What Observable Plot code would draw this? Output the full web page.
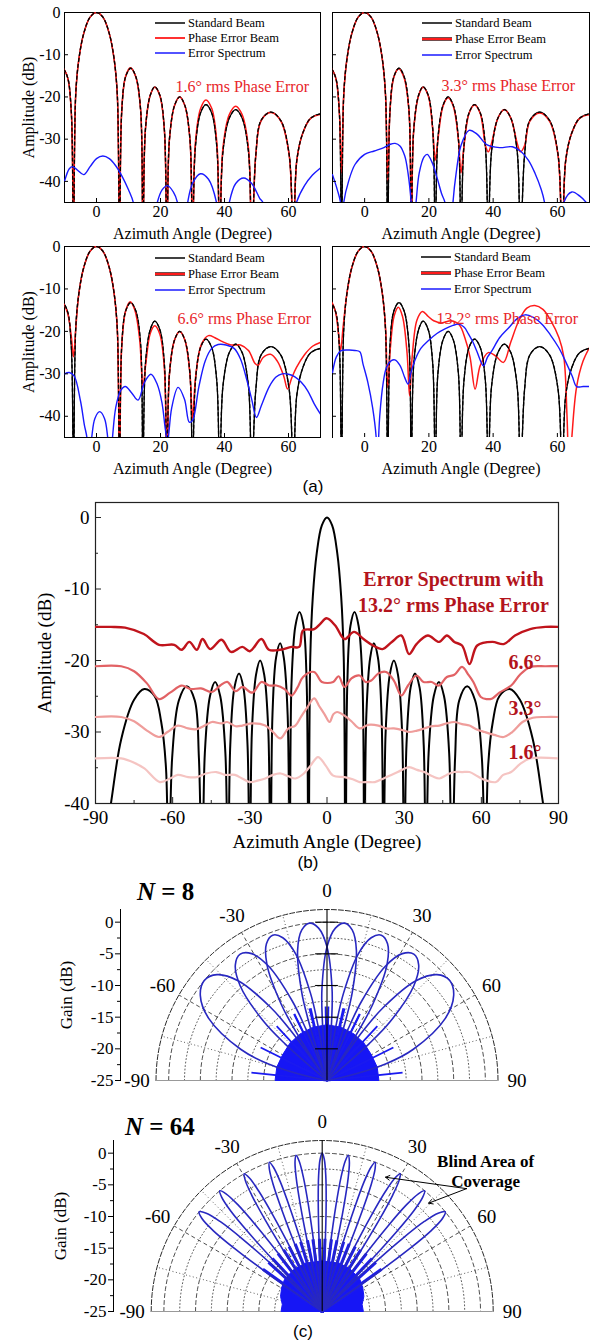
<!DOCTYPE html>
<html><head><meta charset="utf-8">
<script src="https://cdn.jsdelivr.net/npm/d3@7"></script>
<script src="https://cdn.jsdelivr.net/npm/@observablehq/plot@0.6"></script>
<style>
html,body{margin:0;padding:0;background:#fff;}
#root{position:relative;width:594px;height:1343px;overflow:hidden;font-family:'Liberation Serif','Times New Roman',serif;color:#000;}
.lgt{position:absolute;font-size:12.5px;line-height:16px;white-space:nowrap;}
.lab{position:absolute;font-family:'Liberation Sans',Arial,sans-serif;font-size:17px;line-height:20px;transform:translate(-50%,-50%);white-space:nowrap;}
.nn{position:absolute;font-family:'Liberation Serif','Times New Roman',serif;font-weight:bold;font-size:25px;line-height:28px;white-space:nowrap;}
</style></head><body><div id="root"></div>
<script>
// ---------------- DATA ----------------
// standard beam (angle deg, amplitude dB), shared by (a) and (b)
const stdBeam = [
[-90,-55],[-87,-47],[-84,-40],[-80,-31],[-75,-25.5],[-71,-24],[-67,-25],[-64.5,-28.5],[-62.6,-35],[-61.5,-55],
[-60.2,-33.6],[-57.6,-25.6],[-54.5,-23.6],[-51.4,-25.6],[-49.8,-33.6],[-48.5,-55],
[-47.5,-33],[-45.5,-25],[-43.5,-23],[-41.5,-25],[-39.5,-33],[-38.5,-55],
[-37.6,-31.8],[-36,-23.8],[-34.2,-21.8],[-32.5,-23.8],[-30.9,-31.8],[-30,-55],
[-29.2,-30],[-27.6,-22],[-26,-20],[-24.4,-22],[-22.8,-30],[-22,-55],
[-21.2,-27.6],[-19.8,-19.6],[-18.2,-17.6],[-16.8,-19.6],[-15.3,-27.6],[-14.5,-55],
[-13.8,-23.2],[-12.3,-15.2],[-10.7,-13.2],[-9.1,-15.2],[-7.9,-23.2],[-7.2,-55],
[-6.5,-19.5],[-5.5,-11],[-4,-5],[-2,-1.1],[0,0],[2,-1.1],[4,-5],[5.5,-11],[6.5,-19.5],[7.2,-55],
[7.9,-23.2],[9.1,-15.2],[10.7,-13.2],[12.3,-15.2],[13.8,-23.2],[14.5,-55],
[15.3,-27.6],[16.8,-19.6],[18.2,-17.6],[19.8,-19.6],[21.2,-27.6],[22,-55],
[22.8,-30],[24.4,-22],[26,-20],[27.6,-22],[29.2,-30],[30,-55],
[30.9,-31.8],[32.5,-23.8],[34.2,-21.8],[36,-23.8],[37.6,-31.8],[38.5,-55],
[39.5,-33],[41.5,-25],[43.5,-23],[45.5,-25],[47.5,-33],[48.5,-55],
[49.8,-33.6],[51.4,-25.6],[54.5,-23.6],[57.6,-25.6],[60.2,-33.6],[61.5,-55],
[62.6,-35],[64.5,-28.5],[67,-25],[71,-24],[75,-25.5],[80,-31],[84,-40],[87,-47],[90,-55]
];
// (a) panel 1 : 1.6 deg rms
const p1Red = [
[-13.8,-23.2],[-12.3,-15.2],[-10.7,-13.2],[-9.1,-15.2],[-7.9,-23.2],[-7.2,-50],
[-6.5,-19.5],[-5.5,-11],[-4,-5],[-2,-1.1],[0,0],[2,-1.1],[4,-5],[5.5,-11],[6.5,-19.5],[7.2,-55],
[7.9,-23],[9.1,-15.1],[10.6,-13.1],[12.2,-15.1],[13.8,-23.1],[14.5,-55],
[15.3,-27.6],[16.8,-19.6],[18.2,-17.7],[19.8,-19.7],[21.2,-27.7],[22,-55],
[22.8,-30],[24.4,-22],[26,-20],[27.6,-22],[29.2,-30],[30,-55],
[30.9,-30.8],[32.5,-22.8],[34.2,-20.7],[36,-22.7],[37.6,-30.7],[38.5,-55],
[39.5,-32.2],[41.5,-24.2],[43.5,-22.2],[45.5,-24.2],[47.5,-32.2],[48.5,-55],
[49.8,-33.7],[51.4,-25.7],[54.5,-23.7],[57.6,-25.7],[60.2,-33.7],[61.5,-55],
[62.6,-35],[64.5,-28.5],[67,-25],[71,-24]
];
const p1Blue = [
[-10,-40],[-8.5,-37],[-7.5,-36.5],[-6,-37.3],[-4,-38.4],[-2,-36.5],[0,-34.6],[2,-34],[4,-34.6],[6,-36.3],[8,-38.8],[10,-42],[11.5,-45],[12.5,-52],
[17.5,-52],[19,-45],[20.5,-42],[22.2,-41],[24,-42.5],[25.3,-45],[26.5,-52],
[27.5,-52],[28.5,-45],[30,-40.5],[32.5,-38.2],[35,-39.5],[37.5,-45],[38.5,-52],
[40.5,-52],[41.5,-45],[43.5,-40.5],[46,-39.2],[48.5,-40.5],[51,-44],[52,-45],[53,-52],
[61,-52],[62.5,-45],[65,-41],[67.5,-38.5],[70,-36.8]
];
// (a) panel 2 : 3.3 deg rms
const p2Red = [
[-13.8,-23.2],[-12.3,-15.2],[-10.7,-13.2],[-9.1,-15.2],[-7.9,-23.2],[-7.2,-38],
[-6.5,-19.5],[-5.5,-11],[-4,-5],[-2,-1.1],[0,0],[2,-1.1],[4,-5],[5.5,-11],[6.5,-19.5],[7.2,-40],
[7.9,-23.3],[9.1,-15.3],[10.6,-13.3],[12.2,-15.3],[13.8,-23.3],[14.5,-55],
[15.3,-27.7],[16.8,-19.7],[18.2,-17.7],[19.8,-19.7],[21.2,-27.7],[22,-35],
[22.8,-30.2],[24.4,-22.2],[26,-20.2],[27.6,-22.2],[29.2,-30.2],[30,-38],
[30.9,-31.9],[32.5,-23.9],[34.2,-21.9],[36,-23.9],[37.6,-31.5],[38.5,-33],
[39.5,-31],[41.5,-25],[43.5,-23],[45.5,-25],[47.5,-31],[48.5,-33],
[49.8,-31.5],[51.4,-25.8],[54.5,-23.8],[57.6,-25.8],[60.2,-33.8],[61.5,-55],
[62.6,-35],[64.5,-28.5],[67,-25],[71,-24.1]
];
const p2Blue = [
[-10,-38.4],[-8.5,-42],[-7.5,-45],[-7,-52],[-6.5,-45],[-5,-40],[-3,-36],[0,-33.6],[3,-32.8],[6,-32],[8,-31.2],[9.5,-31],[11,-31.6],[12.5,-34],[13.5,-38],[14.5,-45],[15,-52],
[16,-45],[17,-38],[18.5,-34.2],[19.5,-33.6],[21,-35.5],[22.5,-39],[24,-43],[25,-45],[25.5,-52],
[27,-52],[27.5,-45],[28.5,-38],[30,-31.5],[32.5,-27.9],[35,-28.8],[38,-31.3],[42,-32],[46,-31.8],[48.5,-32.8],[51,-35],[53,-38],[55,-42],[56,-45],[57,-52],
[61.5,-52],[62,-45],[64.5,-42.5],[67,-43.5],[69,-45],[70,-46]
];
// (a) panel 3 : 6.6 deg rms
const p3Red = [
[-13.8,-23.2],[-12.3,-15.2],[-10.7,-13.2],[-9.1,-15.5],[-7.9,-21],[-7.2,-26],
[-6.5,-19.5],[-5.5,-11],[-4,-5],[-2,-1.1],[0,0],[2,-1.1],[4,-5],[5.5,-11],[6.5,-19.5],[7.2,-55],
[7.9,-23.2],[9.1,-15.2],[10.5,-13],[12,-15],[13.5,-22],[14.5,-33],
[15.5,-27],[16.8,-20.5],[18.2,-18.7],[19.8,-20.7],[21.2,-28.7],[22,-55],
[22.8,-30],[24.4,-22],[26,-20],[27.6,-22],[29.2,-30],[30,-40.5],
[31,-30.5],[32.8,-23],[35,-21],[37,-21.5],[39,-22.3],[42,-23.2],[45,-23.2],[47.5,-24.5],[49.5,-27.5],[50.5,-28],
[52,-26.2],[54.4,-25.4],[56.5,-27],[58.5,-30.5],[59.7,-33.6],[61,-31],[62.5,-28.5],[65,-25.5],[67.5,-23.5],[70,-22.6]
];
const p3Blue = [
[-10,-30],[-8.5,-29.7],[-7,-30.5],[-5,-36.4],[-3.8,-42],[-3,-45],[-2.5,-52],[-1.5,-45],[-0.5,-40.5],[1,-38.9],[2.5,-40.5],[3.5,-45],[4.2,-52],
[5,-45],[6,-38],[7.5,-34],[9,-33],[11,-34.5],[13,-36.2],[15,-32],[17,-30.1],[19,-32.5],[20.5,-37],[21.5,-43],[22.2,-46],
[23.5,-38],[25.5,-33.2],[27.5,-36],[29,-41.4],[30,-41],[32,-33],[34,-26.9],[36,-24],[38,-23.1],[40.5,-23.2],[43,-24],[45,-26.5],[47,-31.5],[48.5,-36],[50,-40.3],
[51.5,-37.5],[54,-33],[56,-30.8],[58,-30],[60,-30.1],[62,-30.7],[64,-32],[66,-34],[68,-37],[70,-39.5]
];
// (a) panel 4 : 13.2 deg rms
const p4Red = [
[-13.8,-23.2],[-12.3,-15],[-10.7,-12.8],[-9.2,-15],[-8.2,-20],[-7.5,-24.6],
[-6.7,-19],[-5.5,-11],[-4,-5],[-2,-1.1],[0,0],[2,-1.1],[4,-5],[5.5,-11],[6.5,-19],[7.2,-33.2],
[8,-24],[9.2,-16.3],[10.5,-14.3],[11.8,-16.5],[13.2,-25],[14,-35.2],
[14.8,-26],[16.3,-17.3],[18,-15.3],[19.8,-16.5],[21.5,-17.5],[24,-18],[27,-17.5],[29.5,-18.5],[31.2,-21.5],[32.8,-26],[34.4,-33.6],
[36,-28],[38.5,-25],[40.8,-25.8],[43.2,-27.3],[45.5,-22.5],[48,-17.5],[50.5,-14.5],[53,-13.9],[55.5,-14.8],[58,-17.5],[60.5,-21.5],[62,-26],[63,-40],[63.7,-55],
[64.5,-45],[66,-33],[68,-27],[70,-23.8]
];
const p4Blue = [
[-10,-29.7],[-8.8,-26],[-7.5,-24.6],[-5,-24.4],[-3,-24.5],[-1.5,-24.8],[-0.5,-27.7],[1,-32],[2.5,-38],[3.6,-45],[3.9,-52],
[4.7,-40],[5.8,-32],[6.8,-28.5],[8.3,-26.9],[9.4,-26.7],[11,-28],[12.5,-30.9],[13.5,-32.4],[14.5,-29.5],[15.6,-26.9],[17.5,-24],[19.8,-22.2],
[22.5,-20.5],[25,-19.4],[27.5,-18.6],[29.2,-18.3],[31,-19],[32.3,-20.6],[33.7,-22.5],[34.9,-24.6],[37,-28.1],[38.3,-26],[39.6,-24.6],
[42,-21.5],[44.8,-19.2],[47.5,-17],[50,-16.1],[52.5,-16.7],[55.2,-18.3],[57.8,-20.8],[60.4,-23.8],[62.5,-27],[64.6,-30.5],[66,-33],[68,-33],[70,-33]
];
const aNotes = ["1.6° rms Phase Error", "3.3° rms Phase Error", "6.6° rms Phase Error", "13.2° rms Phase Error"];
const legendLabels = ["Standard Beam", "Phase Error Beam", "Error Spectrum"];
const aXTicks = [0, 20, 40, 60];
const aYTicks = [-40, -30, -20, -10, 0];

// (b) error spectra for each rms phase error
const e13 = [
[-90,-15.3],[-84,-15.3],[-78.5,-15.4],[-71.2,-16.3],[-65.3,-17.8],[-59.4,-17.8],[-56.5,-18.5],[-53.5,-17.4],[-50.6,-18.5],[-48.4,-17],[-45.4,-18.4],
[-41,-17.1],[-37.3,-18.8],[-32.9,-18.1],[-30,-18.7],[-25.5,-17],[-22.6,-18.5],[-18.2,-18.5],[-13.8,-18.1],[-10.8,-18.1],[-9.3,-15.8],[-5,-15.6],
[-2.7,-14.9],[-0.2,-14.1],[3.2,-15.1],[6.8,-17],[10.5,-16],[14.2,-17],[17.9,-17.9],[21.6,-18.4],[25.2,-17.4],[28.9,-16.5],[31.9,-19.1],[34.8,-17.7],
[39.2,-16.5],[43.6,-17.4],[46.6,-16.5],[49.5,-17.4],[52.5,-17.9],[55.4,-20.5],[58.4,-17.9],[64.3,-17.4],[68.7,-17.7],[73.1,-16.5],[79,-15.6],[84.9,-15.3],[90,-15.3]
];
const e6 = [
[-90,-20.8],[-80,-20.8],[-75,-21.5],[-70,-23.2],[-65.3,-25.4],[-61,-24.5],[-56.5,-23.5],[-53,-24],[-49,-23.9],[-44.7,-24.4],[-41.5,-23.5],[-38.8,-23],
[-35.5,-24.3],[-32.9,-23.7],[-29,-24.5],[-25.5,-23],[-22.5,-23.5],[-19.7,-23.5],[-16.5,-24],[-13.8,-24.9],[-11.5,-23.8],[-9.3,-22.3],[-5,-21.6],[-2,-23],
[2.4,-23],[4.5,-22.2],[6.8,-23.7],[9.5,-22.5],[12.7,-22.1],[15,-23],[17.2,-22.8],[20,-21.8],[23,-21.6],[26,-22.8],[28.9,-24.9],[31.5,-23.5],[34.8,-22.1],
[37.5,-23],[40.7,-23],[43.5,-23.5],[46.6,-22.3],[49.5,-22],[52.5,-20.9],[55,-22],[56.9,-23],[59.8,-25.1],[62,-25.4],[64.3,-25.3],[67,-24.5],[71.6,-23.5],
[75,-22],[79,-20.9],[85,-20.8],[90,-20.8]
];
const e3 = [
[-90,-27.9],[-80,-27.9],[-75,-28.5],[-70,-29.8],[-65.3,-30.7],[-62,-30],[-58,-29.1],[-54,-29.5],[-50.6,-29.6],[-47,-29],[-44.7,-28.6],[-41,-28.8],
[-38.8,-28.6],[-35.5,-29.2],[-32.9,-29.1],[-29,-28.8],[-24,-29.1],[-21,-30],[-18.2,-30.9],[-15,-29.5],[-12.3,-29.1],[-10,-27.8],[-7.9,-26.7],[-5,-25.3],
[-3,-26.4],[-1,-27.5],[1,-28.6],[2.5,-27.5],[3.9,-27.2],[6.8,-27.7],[9.5,-28.5],[12.7,-29.5],[16,-29],[20,-29.1],[23,-29.5],[26,-29.5],[29,-29.7],
[31.9,-30],[35,-29.8],[37.8,-29.5],[40.5,-29.2],[43.7,-29.1],[46.5,-28.8],[49.5,-28.6],[52.5,-28.9],[55.4,-29.1],[58,-29.6],[61.3,-30],[65,-30.4],
[68.7,-30.7],[72,-30],[76,-28.6],[80,-28],[85,-27.9],[90,-27.9]
];
const e1 = [
[-90,-33.7],[-80,-33.7],[-75,-34.3],[-71,-35.1],[-65,-37],[-61,-36.5],[-58,-36],[-54,-36.3],[-50.6,-36.3],[-47,-35.8],[-43,-35.6],[-39.5,-36],
[-35.8,-36],[-33,-36.5],[-30,-37],[-27,-36.8],[-24,-36.5],[-21,-36],[-18,-35.8],[-15,-36.2],[-12.3,-36.5],[-9,-35.8],[-6.4,-34.7],[-3.5,-33.5],
[-0.5,-34.7],[2.4,-36.1],[6.8,-36.3],[10,-36.6],[12.7,-37],[16,-37],[18.6,-37],[22,-36.5],[25,-36],[27.5,-35.6],[31.9,-34.9],[35,-35.3],[37.8,-35.6],
[41,-36.2],[43.7,-36.5],[46.5,-36],[49.5,-35.6],[52.5,-35.6],[55.4,-35.6],[58.5,-36.2],[61.3,-36.7],[65.7,-37],[68.5,-36],[71.6,-35.6],[75,-34.5],
[79,-33.7],[90,-33.7]
];
const bXTicks = [-90, -60, -30, 0, 30, 60, 90];
const bXMinor = [-75, -45, -15, 15, 45, 75];
const bYTicks = [-40, -30, -20, -10, 0];
const bYMinor = [-35, -25, -15, -5];
const bLevelLabels = ["6.6°", "3.3°", "1.6°"];

// (c) N = 8 beams: main-lobe angles and gains (dB)
const n8Ang = [
[-5.7,-5.45,-4.4,-3.15,0,3.15,6.3,9.5,12.7,16,17.3,18.4,18.7],
[5.7,5.45,4.4,3.15,0,-3.15,-6.3,-9.5,-12.7,-16,-17.3,-18.4,-18.7],
[8,8.9,9.4,10.7,13.9,17.2,20.5,23.9,27.4,31,32.5,33.7,34.1],
[-8,-8.9,-9.4,-10.7,-13.9,-17.2,-20.5,-23.9,-27.4,-31,-32.5,-33.7,-34.1],
[20.9,21.8,22.3,23.6,27.1,30.7,34.5,38.4,42.5,47,48.9,50.4,50.9],
[-20.9,-21.8,-22.3,-23.6,-27.1,-30.7,-34.5,-38.4,-42.5,-47,-48.9,-50.4,-50.9],
[34.4,35.5,36,37.6,41.7,46.1,50.8,56.1,62.3,70.1,74.2,78.5,80],
[-34.4,-35.5,-36,-37.6,-41.7,-46.1,-50.8,-56.1,-62.3,-70.1,-74.2,-78.5,-80]
];
const n8GainA = [-25,-22.5,-15.4,-10.5,-3.9,-0.9,0,-0.9,-3.9,-10.5,-15.4,-22.5,-25];
const n8GainB = [-25,-23,-15.9,-11,-4.4,-1.4,-0.5,-1.4,-4.4,-11,-15.9,-23,-25];
const n8GainC = [-25,-23.3,-16.2,-11.3,-4.7,-1.7,-0.8,-1.7,-4.7,-11.3,-16.2,-23.3,-25];
const n8Gain = [n8GainA, n8GainA, n8GainB, n8GainB, n8GainC, n8GainC, n8GainA, n8GainA];
// side-lobe peaks (angle, dB)
const n8Side = [
[26.1,-13.3],[-12.7,-13.3],[41.3,-17.8],[-26.1,-17.8],[61.6,-20.8],[-41.3,-20.8],[-61.6,-22.9],
[-26.1,-13.3],[12.7,-13.3],[-41.3,-17.8],[26.1,-17.8],[-61.6,-20.8],[41.3,-20.8],[61.6,-22.9],
[42.8,-13.3],[1.1,-13.3],[64.2,-17.8],[-11.5,-17.8],[-24.8,-20.8],[-39.8,-22.9],
[-42.8,-13.3],[-1.1,-13.3],[-64.2,-17.8],[11.5,-17.8],[24.8,-20.8],[39.8,-22.9],
[63.6,-13.3],[13.7,-13.3],[0.9,-17.8],[-11.8,-20.8],[-25.1,-22.9],
[-63.6,-13.3],[-13.7,-13.3],[-0.9,-17.8],[11.8,-20.8],[25.1,-22.9],
[26.4,-13.3],[13,-17.8],[0.3,-20.8],[-12.4,-22.9],[84,-13],
[-26.4,-13.3],[-13,-17.8],[-0.3,-20.8],[12.4,-22.9],[-84,-13]
];
// dense side-lobe core outline (angle, dB)
const n8Core = [[-90,-25],[-90,-16.8],[-75,-16.8],[-60,-16.9],[-45,-16.7],[-30,-16.5],[-15,-16.3],[0,-16.2],[15,-16.3],[30,-16.5],[45,-16.7],[60,-16.9],[75,-16.8],[90,-16.8],[90,-25]];

// (c) N = 64 beams
const n64Ang = [
[-3,-2.6,-2.1,-1.5,-0.8,0,0.8,1.5,2.1,2.6,3],
[6.5,6.9,7.4,8,8.7,9.5,10.3,11,11.6,12.1,12.5],
[-12.5,-12.1,-11.6,-11,-10.3,-9.5,-8.7,-8,-7.4,-6.9,-6.5],
[16.3,16.7,17.3,17.9,18.65,19.5,20.35,21.1,21.7,22.3,22.7],
[-22.7,-22.3,-21.7,-21.1,-20.35,-19.5,-18.65,-17.9,-17.3,-16.7,-16.3],
[26.1,26.5,27.1,27.8,28.6,29.5,30.4,31.2,31.9,32.5,32.9],
[-32.9,-32.5,-31.9,-31.2,-30.4,-29.5,-28.6,-27.8,-27.1,-26.5,-26.1],
[36.4,36.9,37.55,38.3,39.25,40.3,41.35,42.3,43.05,43.7,44.2],
[-44.2,-43.7,-43.05,-42.3,-41.35,-40.3,-39.25,-38.3,-37.55,-36.9,-36.4],
[46.2,46.9,47.7,48.6,49.7,51,52.3,53.4,54.3,55.1,55.8],
[-55.8,-55.1,-54.3,-53.4,-52.3,-51,-49.7,-48.6,-47.7,-46.9,-46.2]
];
const n64Gain = [-25,-15,-8,-3.5,-1,0,-1,-3.5,-8,-15,-25];
const n64Side = [
[-2.2,-13.5],[2.2,-13.5],[-3.6,-17.5],[3.6,-17.5],
[7.3,-13.5],[11.7,-13.5],[5.9,-17.5],[13.1,-17.5],
[-11.7,-13.5],[-7.3,-13.5],[-13.1,-17.5],[-5.9,-17.5],
[17.2,-13.5],[21.8,-13.5],[15.7,-17.5],[23.3,-17.5],
[-21.8,-13.5],[-17.2,-13.5],[-23.3,-17.5],[-15.7,-17.5],
[27,-13.5],[32,-13.5],[25.4,-17.5],[33.6,-17.5],
[-32,-13.5],[-27,-13.5],[-33.6,-17.5],[-25.4,-17.5],
[37.4,-13.5],[43.2,-13.5],[35.6,-17.5],[45,-17.5],
[-43.2,-13.5],[-37.4,-13.5],[-45,-17.5],[-35.6,-17.5],
[47.5,-13.5],[54.5,-13.5],[45.5,-17.5],[56.5,-17.5],
[-54.5,-13.5],[-47.5,-13.5],[-56.5,-17.5],[-45.5,-17.5]
];
const n64Core = [[-90,-25],[-90,-18.5],[-80,-18.6],[-70,-18],[-60,-17.6],[-50,-17.2],[-35,-17],[-20,-16.9],[0,-17],[20,-16.9],[35,-17],[50,-17.2],[60,-17.6],[70,-18],[80,-18.6],[90,-18.5],[90,-25]];
const pGainTicks = [-25, -20, -15, -10, -5, 0];
const pGainMinor = [-22.5, -17.5, -12.5, -7.5, -2.5];
const pRingMajor = [-20, -15, -10, -5, 0];
const pRingMinor = [-22.5, -17.5, -12.5, -7.5, -2.5];
const pSpokeMajor = [-60, -30, 30, 60];
const pSpokeMinor = [-75, -45, -15, 15, 45, 75];
const pAngleLabels = [-90, -60, -30, 0, 30, 60, 90];
const pCross = [-20, -15, -10, -5, 0];

// ---------------- DRAWING ----------------
const root = document.getElementById("root");
const SERIF = "'Liberation Serif','Times New Roman',Times,serif";
const X = d => d[0], Y = d => d[1];
const FMT = d => String(d);

function place(el, left, top) {
  el.style.position = "absolute";
  el.style.left = left + "px";
  el.style.top = top + "px";
  el.style.maxWidth = "none";
  el.style.overflow = "visible";
  root.appendChild(el);
}
function html(cls, text, left, top, extra) {
  const d = document.createElement("div");
  d.className = cls;
  d.innerHTML = text;
  d.style.left = left + "px";
  d.style.top = top + "px";
  if (extra) Object.assign(d.style, extra);
  root.appendChild(d);
  return d;
}
function swatch(x, y, color, w, outline) {
  const ns = "http://www.w3.org/2000/svg";
  const s = document.createElementNS(ns, "svg");
  s.setAttribute("width", 30); s.setAttribute("height", 8);
  s.style.position = "absolute"; s.style.left = x + "px"; s.style.top = (y - 4) + "px";
  if (outline) {
    const o = document.createElementNS(ns, "line");
    o.setAttribute("x1", 0); o.setAttribute("x2", 30); o.setAttribute("y1", 4); o.setAttribute("y2", 4);
    o.setAttribute("stroke", "#300"); o.setAttribute("stroke-width", w + 1.4);
    s.appendChild(o);
  }
  const l = document.createElementNS(ns, "line");
  l.setAttribute("x1", 0); l.setAttribute("x2", 30); l.setAttribute("y1", 4); l.setAttribute("y2", 4);
  l.setAttribute("stroke", color); l.setAttribute("stroke-width", w);
  s.appendChild(l);
  root.appendChild(s);
}
function legend(x, ys, thickRed) {
  const cols = [["#000", 1.5, false], ["#ff1a1a", thickRed ? 2 : 1.8, thickRed], ["#1a1aff", 1.5, false]];
  legendLabels.forEach((t, i) => {
    swatch(x, ys[i], cols[i][0], cols[i][1], cols[i][2]);
    html("lgt", t, x + 33, ys[i] - 8);
  });
}

function panelA(c) {
  const fw = c.width - c.ml - c.mr, fh = c.height - c.mt - c.mb;
  const marks = [];
  if (c.box) marks.push(Plot.frame({stroke: "#000", strokeWidth: 1}));
  else marks.push(Plot.frame({anchor: "left", stroke: "#000"}), Plot.frame({anchor: "top", stroke: "#000"}));
  marks.push(
    Plot.line(stdBeam, {x: X, y: Y, curve: "catmull-rom", stroke: "#000", strokeWidth: 1.3, clip: true}),
    Plot.line(c.red, {x: X, y: Y, curve: "catmull-rom", stroke: "#ff1a1a", strokeWidth: 1.5, clip: true}),
    Plot.line(stdBeam, {x: X, y: Y, curve: "catmull-rom", stroke: "#000", strokeWidth: 1.3, strokeDasharray: "3,3", clip: true}),
    Plot.line(c.blue, {x: X, y: Y, curve: "catmull-rom", stroke: "#1a1aff", strokeWidth: 1.4, clip: true}),
    Plot.tickY(aYTicks, {y: d => d, insetRight: fw - 4, stroke: "#000"}),
    Plot.tickX(aXTicks, {x: d => d, insetTop: fh - 4, stroke: "#000"}),
    Plot.axisX(aXTicks, {tickSize: 0, tickPadding: 3, fontSize: 16, tickFormat: FMT, label: "Azimuth Angle (Degree)", labelAnchor: "center", labelOffset: 36, labelArrow: "none"}),
    Plot.text([c.note], {frameAnchor: "top-left", dx: c.ndx, dy: c.ndy, textAnchor: "start", lineAnchor: "middle", fill: "#e8262a", fontSize: 16})
  );
  if (c.showY) marks.push(Plot.axisY(aYTicks, {tickSize: 0, tickPadding: 4, fontSize: 16, tickFormat: FMT, label: "Amplitude (dB)", labelAnchor: "center", labelOffset: 42, labelArrow: "none"}));
  const el = Plot.plot({
    width: c.width, height: c.height, marginLeft: c.ml, marginRight: c.mr, marginTop: c.mt, marginBottom: c.mb,
    x: {domain: [-10, 70]},
    y: c.showY ? {domain: [-45, 0]} : {domain: [-45, 0], axis: null},
    style: {fontFamily: SERIF, fontSize: "16px", background: "transparent", color: "#000", overflow: "visible"},
    marks
  });
  place(el, c.left, c.top);
}

panelA({left: 0, top: 0, width: 330, height: 240, ml: 64, mr: 10, mt: 12, mb: 38, box: true, showY: true, red: p1Red, blue: p1Blue, note: aNotes[0], ndx: 111, ndy: 74});
panelA({left: 300, top: 0, width: 294, height: 240, ml: 32, mr: 5, mt: 12, mb: 38, box: true, showY: false, red: p2Red, blue: p2Blue, note: aNotes[1], ndx: 109, ndy: 73});
panelA({left: 0, top: 234, width: 330, height: 240, ml: 64, mr: 10, mt: 12, mb: 37, box: true, showY: true, red: p3Red, blue: p3Blue, note: aNotes[2], ndx: 113, ndy: 72});
panelA({left: 300, top: 234, width: 294, height: 240, ml: 32, mr: 5, mt: 12, mb: 37, box: false, showY: false, red: p4Red, blue: p4Blue, note: aNotes[3], ndx: 104, ndy: 72});
legend(155, [23, 38, 53], false);
legend(422, [23, 39, 55], true);
legend(155, [258, 274, 290], true);
legend(421, [257, 273, 289], true);
html("lab", "(a)", 313, 487);

// (b)
(function () {
  const W = 594, H = 365, ml = 95, mr = 36, mt = 7, mb = 57;
  const fw = W - ml - mr, fh = H - mt - mb;
  const lvl = (t, dy) => Plot.text([t], {frameAnchor: "top-left", dx: 413, dy, textAnchor: "start", lineAnchor: "middle", fontWeight: "bold", fontSize: 20, fill: "#b3141c"});
  const el = Plot.plot({
    width: W, height: H, marginLeft: ml, marginRight: mr, marginTop: mt, marginBottom: mb,
    x: {domain: [-90, 90]}, y: {domain: [-40, 2.1]},
    style: {fontFamily: SERIF, fontSize: "19px", background: "transparent", color: "#000", overflow: "visible"},
    marks: [
      Plot.frame({stroke: "#222", strokeWidth: 1.2}),
      Plot.line(stdBeam, {x: X, y: Y, curve: "catmull-rom", stroke: "#000", strokeWidth: 2, clip: true}),
      Plot.line(e1, {x: X, y: Y, curve: "catmull-rom", stroke: "#f5c4c2", strokeWidth: 2.2, clip: true}),
      Plot.line(e3, {x: X, y: Y, curve: "catmull-rom", stroke: "#ef9d9b", strokeWidth: 2.2, clip: true}),
      Plot.line(e6, {x: X, y: Y, curve: "catmull-rom", stroke: "#e26265", strokeWidth: 2.2, clip: true}),
      Plot.line(e13, {x: X, y: Y, curve: "catmull-rom", stroke: "#c0141c", strokeWidth: 2.4, clip: true}),
      Plot.tickY(bYTicks, {y: d => d, insetRight: fw - 6, stroke: "#222"}),
      Plot.tickY(bYMinor, {y: d => d, insetRight: fw - 3, stroke: "#222"}),
      Plot.tickX(bXTicks, {x: d => d, insetTop: fh - 6, stroke: "#222"}),
      Plot.tickX(bXMinor, {x: d => d, insetTop: fh - 3, stroke: "#222"}),
      Plot.axisX(bXTicks, {tickSize: 0, tickPadding: 7, fontSize: 19, tickFormat: FMT, label: "Azimuth Angle (Degree)", labelAnchor: "center", labelOffset: 44, labelArrow: "none"}),
      Plot.axisY(bYTicks, {tickSize: 0, tickPadding: 6, fontSize: 19, tickFormat: FMT, label: "Amplitude (dB)", labelAnchor: "center", labelOffset: 58, labelArrow: "none"}),
      Plot.text(["Error Spectrum with\n13.2° rms Phase Error"], {frameAnchor: "top-left", dx: 358, dy: 88, textAnchor: "middle", lineAnchor: "middle", lineHeight: 1.3, fontWeight: "bold", fontSize: 20, fill: "#b3141c"}),
      lvl(bLevelLabels[0], 160),
      lvl(bLevelLabels[1], 206),
      lvl(bLevelLabels[2], 250)
    ]
  });
  place(el, 0, 495);
})();
html("lab", "(b)", 308, 863);

// (c) polar
const RAD = Math.PI / 180;
const polX = d => Math.max(0, d[1] + 25) * Math.sin(d[0] * RAD);
const polY = d => Math.max(0, d[1] + 25) * Math.cos(d[0] * RAD) - 25;
function rings(levels) { return levels.flatMap(g => d3.range(-90, 90.001, 2).map(a => [a, g])); }

function polar(c) {
  const lobes = c.ang.flatMap((angs, b) => angs.map((a, i) => [a, c.gain(b)[i], b]));
  const marks = [
    Plot.line(rings(pRingMinor), {x: polX, y: polY, z: d => d[1], stroke: "#333", strokeWidth: 0.8, strokeDasharray: "1,2.5"}),
    Plot.line(rings(pRingMajor), {x: polX, y: polY, z: d => d[1], stroke: "#222", strokeWidth: 0.8, strokeDasharray: "4,3"}),
    Plot.line(rings([2]), {x: polX, y: polY, stroke: "#111", strokeWidth: 0.9, strokeDasharray: "5,2"}),
    Plot.link(pSpokeMinor, {x1: 0, y1: -25, x2: a => 27 * Math.sin(a * RAD), y2: a => 27 * Math.cos(a * RAD) - 25, stroke: "#333", strokeWidth: 0.8, strokeDasharray: "1,2.5"}),
    Plot.link(pSpokeMajor, {x1: 0, y1: -25, x2: a => 27 * Math.sin(a * RAD), y2: a => 27 * Math.cos(a * RAD) - 25, stroke: "#222", strokeWidth: 0.8, strokeDasharray: "4,3"}),
    Plot.ruleY([-25], {x1: -27, x2: 27, stroke: "#999", strokeWidth: 1.2}),
    Plot.line(c.core, {x: polX, y: polY, fill: "#1616f5", stroke: "#1616f5", strokeWidth: 1}),
    Plot.link(c.side, {x1: 0, y1: -25, x2: polX, y2: polY, stroke: "#1a1af0", strokeWidth: c.sideWidth}),
    Plot.line(lobes, {x: polX, y: polY, z: d => d[2], curve: "catmull-rom", stroke: "#2828c0", strokeWidth: 1.6}),
    Plot.ruleX([0], {y1: -25, y2: 2, stroke: "#000", strokeWidth: 1.1}),
    Plot.frame({anchor: "left", stroke: "#000"}),
    Plot.axisY(pGainTicks, {anchor: "left", tickSize: 5, tickPadding: 2, fontSize: 17, tickFormat: FMT, label: "Gain (dB)", labelAnchor: "center", labelOffset: c.labOff, labelArrow: "none"}),
    Plot.axisY(pGainMinor, {anchor: "left", tickSize: 3, tickFormat: () => "", label: null}),
    Plot.text(pAngleLabels, {x: a => 30 * Math.sin(a * RAD), y: a => 30 * Math.cos(a * RAD) - 25, text: a => String(a), fontSize: 19, lineAnchor: "middle"})
  ];
  if (c.cross) marks.push(Plot.ruleY(pCross, {y: d => d, x1: -1.8, x2: 1.8, stroke: "#000", strokeWidth: 1.1}));
  if (c.extra) marks.push(...c.extra);
  const el = Plot.plot({
    width: 594, height: c.height, marginLeft: c.ml, marginRight: 20, marginTop: c.mt, marginBottom: c.mb,
    x: {domain: [-27, 27], range: [c.cx - 171, c.cx + 171], axis: null},
    y: {domain: [-25, 2], range: [c.height - c.mb, c.mt]},
    style: {fontFamily: SERIF, fontSize: "17px", background: "transparent", color: "#000", overflow: "visible"},
    marks
  });
  place(el, 0, c.top);
}

polar({top: 870, height: 225, cx: 326.5, ml: 120, mt: 39, mb: 15, labOff: 61, ang: n8Ang, gain: b => n8Gain[b], side: n8Side, sideWidth: 1.8, core: n8Core, cross: true});
polar({top: 1100, height: 225, cx: 321.7, ml: 113, mt: 40, mb: 14, labOff: 60, ang: n64Ang, gain: b => n64Gain, side: n64Side, sideWidth: 3, core: n64Core, cross: false,
  extra: [
    Plot.text(["Blind Area of\nCoverage"], {x: 25.8, y: -2.7, textAnchor: "middle", lineAnchor: "middle", lineHeight: 1.2, fontWeight: "bold", fontSize: 17}),
    Plot.arrow([[22.8, -5.6, 10.0, -3.8], [22.8, -5.6, 16.8, -7.9]], {x1: d => d[0], y1: d => d[1], x2: d => d[2], y2: d => d[3], stroke: "#000", strokeWidth: 1, headLength: 7})
  ]});
html("nn", "<i>N</i> = 8", 137, 878);
html("nn", "<i>N</i> = 64", 125, 1113);
html("lab", "(c)", 303, 1332);
</script></body></html>
